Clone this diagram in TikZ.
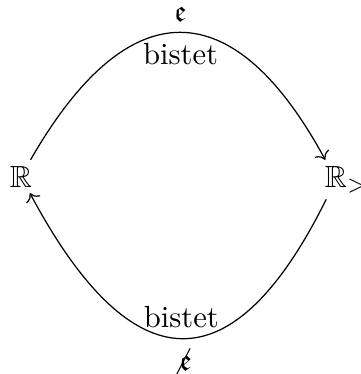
\documentclass[tikz,border=0pt]{standalone}
\usepackage{amsmath,amssymb,amsfonts,mathtools}
\usetikzlibrary{arrows.meta,positioning}

\begin{document}
\begin{tikzpicture}[
    x=0.3268pt, y=0.3268pt,
    ->, >={To},
    space/.style={inner xsep=3.33pt, inner ysep=1.8pt, anchor=base},
    lbl/.style={inner sep=3.33pt}
]
\useasboundingbox (0,0) rectangle (361,374);

\node[space] (R) at (21,187) {$\mathbb{R}$};
\node[space] (Rpos) at (336,187) {$\mathbb{R}\mathrlap{_{>0}}$};

\draw (R) .. controls +(108,188) and +(-102,188) .. (Rpos)
    node[lbl, midway, above] (eTop) {$\mathfrak{e}$}
    node[lbl, midway, below] (bTop) {bistet};
\draw (Rpos) .. controls +(-103,-208) and +(111,-208) .. (R)
    node[lbl, midway, above] (bBot) {bistet}
    node[lbl, midway, below] (eBot) {$\not\mathfrak{e}$};

\end{tikzpicture}
\end{document}
